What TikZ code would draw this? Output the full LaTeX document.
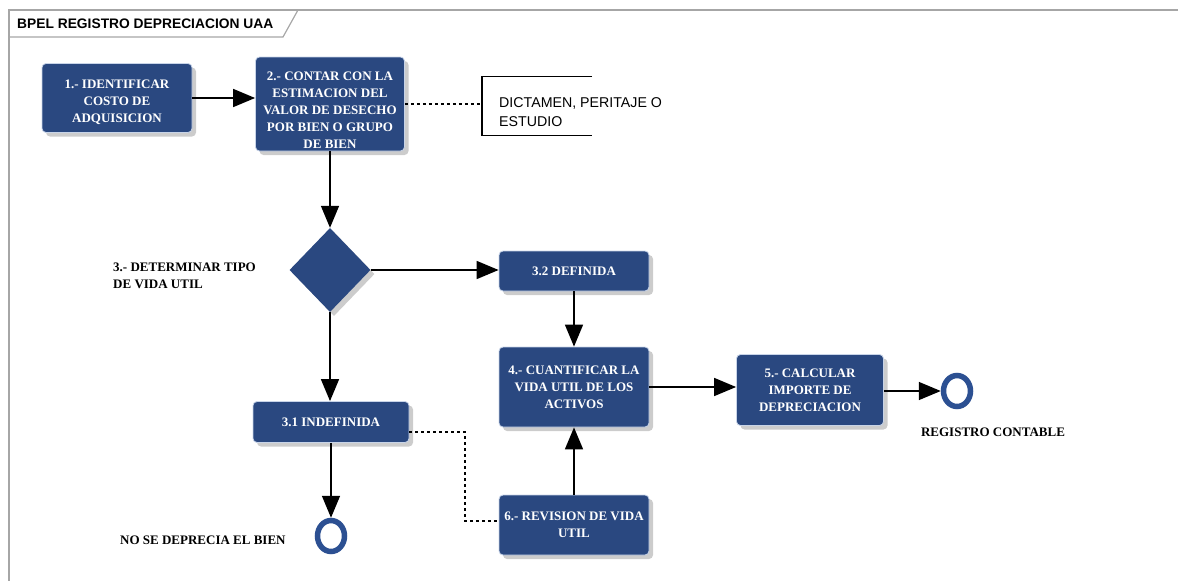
\documentclass[tikz,border=0pt]{standalone}
\usepackage{fontspec}
\setmainfont{Liberation Serif}
\newfontfamily\sansfont{Liberation Sans}
\usepackage{tikz}
\usetikzlibrary{arrows.meta, positioning, shapes.geometric, shadows}
\definecolor{taskblue}{RGB}{42,72,128}
\definecolor{ringblue}{RGB}{44,80,146}
\definecolor{edgeblue}{RGB}{200,212,232}
\newcommand{\toppad}[1]{\rule{0pt}{#1}}
\tikzset{>/.tip={Triangle[length=22pt,width=18pt]}}
\tikzset{task/.style={rectangle, rounded corners=4pt, fill=taskblue, draw=edgeblue, line width=0.8pt,
  text=white, font=\bfseries\fontsize{13}{17}\selectfont, align=center, inner sep=2pt,
  drop shadow={shadow xshift=4pt, shadow yshift=-4pt, fill=black!20, opacity=1}}}
\tikzset{lowtext/.style={text depth=0pt}}
\tikzset{gate/.style={diamond, fill=taskblue, inner sep=0pt, minimum width=81pt, minimum height=84pt,
  drop shadow={shadow xshift=4pt, shadow yshift=-4pt, fill=black!20, opacity=1}}}
\tikzset{endring/.style={ellipse, draw=ringblue, line width=5.5pt, inner sep=0pt, minimum width=27pt, minimum height=31pt}}
\tikzset{caption/.style={font=\bfseries\fontsize{13}{17}\selectfont, align=left, inner sep=0pt}}
\tikzset{flow/.style={->, line width=1.6pt}}
\tikzset{assoc/.style={line width=1.3pt, dash pattern=on 3pt off 3pt}}

\begin{document}
\begin{tikzpicture}[x=1pt, y=-1pt]
\useasboundingbox (0,0) rectangle (1178,581);
% frame and title tab
\draw[black!35, line width=1.2pt] (1178,10) -- (9,10) -- (9,581);
\draw[black!35, line width=1.2pt] (9,37) -- (283,37) -- (298,10);
\draw node(title) [anchor=west, inner sep=0pt, font=\sansfont\bfseries\fontsize{13.8}{16}\selectfont] at (17,24) {BPEL REGISTRO DEPRECIACION UAA};

% activities
\draw node(b1) [task, lowtext, minimum width=150pt, minimum height=69pt] at (117,98) {\toppad{15pt}1.- IDENTIFICAR\\COSTO DE\\ADQUISICION};
\draw node(b2) [task, lowtext, minimum width=149pt, minimum height=94pt] at (330,104) {\toppad{20pt}2.- CONTAR CON LA\\ESTIMACION DEL\\VALOR DE DESECHO\\POR BIEN O GRUPO\\DE BIEN};
\draw node(gate) [gate] at (330,270) {};
\draw node(b32) [task, minimum width=150pt, minimum height=40pt] at (574,271) {3.2 DEFINIDA};
\draw node(b4) [task, minimum width=150pt, minimum height=80pt] at (574,387) {4.- CUANTIFICAR LA\\VIDA UTIL DE LOS\\ACTIVOS};
\draw node(b5) [task, lowtext, minimum width=147pt, minimum height=71pt] at (810,390) {5.- CALCULAR\\IMPORTE DE\\DEPRECIACION};
\draw node(b31) [task, minimum width=156pt, minimum height=41pt] at (331,422) {3.1 INDEFINIDA};
\draw node(b6) [task, minimum width=150pt, minimum height=60pt] at (574,525) {6.- REVISION DE VIDA\\UTIL};
\draw node(end1) [endring] at (957,391) {};
\draw node(end2) [endring] at (331,536) {};

% labels
\draw node(gatelbl) [caption, anchor=west] at (113,276) {3.- DETERMINAR TIPO\\DE VIDA UTIL};
\draw node(end1lbl) [caption] at (993,432) {REGISTRO CONTABLE};
\draw node(end2lbl) [caption, anchor=west] at (120,540) {NO SE DEPRECIA EL BIEN};

% annotation
\draw node(note) [anchor=west, minimum height=58pt, inner xsep=17pt, align=left,
  font=\sansfont\fontsize{14.2}{19}\selectfont] at (482,112) {DICTAMEN, PERITAJE O\\ESTUDIO};
\draw[line width=1.3pt] ([xshift=110pt, yshift=6pt]note.north west) -- ([yshift=6pt]note.north west)
  -- ([yshift=6pt]note.south west) -- ([xshift=110pt, yshift=6pt]note.south west);

% sequence flows
\draw[flow] (b1) -- (b1 -| b2.west);
\draw[flow] (b2) -- (gate);
\draw[flow] (gate.east) -- (gate.east -| b32.west);
\draw[flow] (gate.south) -- (b31.north -| gate.south);
\draw[flow] (b32) -- (b4);
\draw[flow] (b4) -- (b4 -| b5.west);
\draw[flow] (b5.east |- end1) -- (end1);
\draw[flow] (b31) -- (end2);
\draw[flow] (b6) -- (b4);

% associations
\draw[assoc] (b2.east) -- (b2.east -| note.west);
\coordinate (bend) at (465,521);
\draw[assoc] ([yshift=-10pt]b31.east) -| (bend) -- (bend -| b6.west);
\end{tikzpicture}
\end{document}
